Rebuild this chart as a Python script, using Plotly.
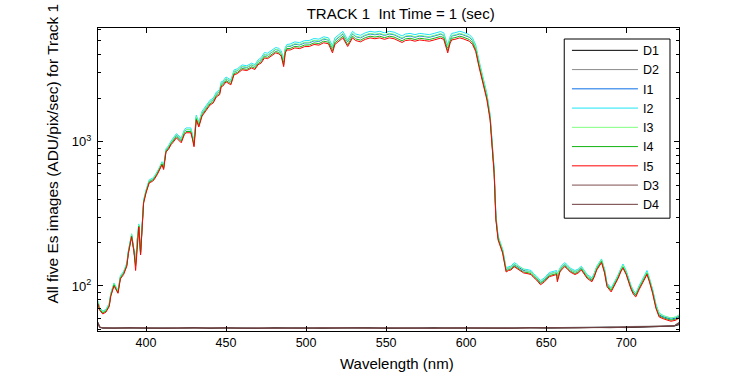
import plotly.graph_objects as go
import math

wavelength = [370, 371, 373, 375, 377, 378, 380, 381.5, 382.5, 384,
              386, 388, 389, 391, 392.5, 393.5, 394.5, 395.5, 396.6, 397.5,
              398.5, 400, 402, 404, 405, 407, 408, 410, 411, 412.5,
              414, 415.6, 417, 419, 422, 424, 425, 428, 429, 430,
              431.4, 433, 435, 436.6, 438, 440, 442, 444, 446, 447,
              448, 450, 453, 455, 457, 460, 463, 466, 468, 470,
              472, 474, 476, 478, 481, 483, 484.5, 486, 487, 488,
              490, 493, 496, 499, 502, 505, 508, 511, 514, 516.5,
              518, 520, 523, 526, 529, 531, 534, 537, 540, 543,
              546, 549, 552, 555, 558, 560, 562, 565, 568, 571,
              574, 577, 580, 582, 584, 586, 588.5, 590, 591, 593,
              596, 598, 600, 602, 604, 606, 608, 609.5, 611, 613,
              615, 616, 617.5, 618.6, 619.3, 620, 622.8, 624, 625, 626.5,
              628, 630, 631.5, 633, 636, 638, 640.6, 642, 644, 646.5,
              649, 652, 654, 656.5, 657, 658.6, 660, 661.6, 663, 665,
              668, 670, 672, 674, 675.6, 678.6, 680, 681.6, 684.6, 686.5,
              688, 690.6, 692, 693.7, 695, 696.6, 698, 700, 701.8, 703,
              704.6, 706, 708, 710, 711, 713, 714.5, 716.5, 718.6, 720.6,
              723.7, 726, 728, 731, 733]

I1 = [77, 70, 66, 68, 74, 88, 103, 95, 92, 115,
      124, 141, 173, 226, 177, 143, 206, 264, 169, 244,
      386, 453, 533, 546, 559, 608, 636, 711, 659, 874,
      915, 988, 1030, 1108, 1029, 1176, 1208, 1208, 1092, 975,
      1481, 1323, 1575, 1659, 1733, 1880, 1943, 2142, 2216, 2520,
      2541, 2720, 2594, 3045, 3098, 3297, 3255, 3392, 3308, 3570,
      3693, 3998, 3956, 4115, 4336, 4273, 4115, 3550, 4326, 4547,
      4558, 4717, 4664, 4812, 4823, 4982, 4929, 5120, 5035, 4430,
      5006, 5219, 5559, 4900, 5559, 5325, 5219, 5432, 5559, 5485,
      5559, 5432, 5559, 5485, 5272, 5165, 5325, 5378, 5272, 5378,
      5325, 5272, 5378, 5485, 5538, 5432, 4450, 5112, 5378, 5432,
      5559, 5485, 5378, 5272, 5006, 4473, 3515, 2982, 2556, 2066,
      1481, 1082, 630, 300, 247, 216, 176, 151, 130, 133,
      134, 141, 138, 134, 128, 127, 125, 120, 114, 106,
      111, 121, 123, 125, 117, 130, 136, 141, 137, 130,
      125, 128, 134, 125, 118, 111, 120, 134, 151, 128,
      103, 95, 101, 109, 118, 130, 138, 125, 106, 99,
      90, 87, 98, 108, 114, 125, 111, 93, 73, 63,
      61, 60, 59, 60, 62]

I2 = [79, 71, 67, 69, 76, 89, 105, 97, 93, 118,
      126, 144, 176, 230, 181, 150, 210, 269, 172, 249,
      394, 462, 543, 557, 570, 620, 648, 725, 672, 891,
      933, 1007, 1050, 1134, 1058, 1210, 1242, 1242, 1123, 1000,
      1523, 1361, 1620, 1706, 1782, 1933, 1998, 2203, 2279, 2592,
      2614, 2797, 2668, 3132, 3186, 3391, 3348, 3488, 3402, 3672,
      3815, 4131, 4088, 4251, 4480, 4415, 4251, 3700, 4469, 4698,
      4730, 4895, 4840, 4994, 5005, 5170, 5115, 5313, 5225, 4600,
      5217, 5439, 5794, 5050, 5794, 5550, 5439, 5661, 5794, 5717,
      5794, 5661, 5794, 5717, 5495, 5384, 5550, 5606, 5495, 5606,
      5550, 5495, 5606, 5717, 5772, 5661, 4650, 5328, 5606, 5661,
      5794, 5717, 5606, 5495, 5217, 4662, 3663, 3108, 2664, 2153,
      1537, 1123, 654, 310, 254, 222, 180, 154, 133, 136,
      137, 145, 142, 137, 131, 130, 128, 122, 117, 109,
      114, 124, 126, 128, 121, 133, 140, 145, 141, 133,
      128, 131, 137, 128, 120, 114, 122, 137, 154, 131,
      105, 97, 103, 112, 120, 133, 142, 128, 109, 101,
      93, 89, 100, 111, 117, 128, 114, 95, 75, 65,
      62, 61, 60, 61, 63]

I3 = [78, 70, 66, 68, 75, 88, 104, 95, 92, 116,
      124, 142, 174, 227, 178, 145, 207, 265, 170, 245,
      388, 455, 535, 549, 562, 611, 639, 714, 662, 879,
      920, 993, 1040, 1115, 1034, 1182, 1213, 1213, 1097, 985,
      1488, 1329, 1583, 1667, 1741, 1888, 1952, 2152, 2226, 2532,
      2553, 2732, 2606, 3060, 3112, 3313, 3271, 3408, 3323, 3587,
      3710, 4017, 3975, 4134, 4357, 4293, 4134, 3600, 4346, 4569,
      4601, 4762, 4708, 4858, 4869, 5029, 4976, 5168, 5083, 4480,
      5053, 5268, 5612, 4950, 5612, 5375, 5268, 5483, 5612, 5536,
      5612, 5483, 5612, 5536, 5321, 5214, 5375, 5429, 5321, 5429,
      5375, 5321, 5429, 5536, 5590, 5483, 4500, 5160, 5429, 5483,
      5612, 5536, 5429, 5321, 5053, 4515, 3548, 3010, 2580, 2085,
      1495, 1092, 636, 302, 248, 217, 177, 152, 131, 134,
      135, 142, 139, 135, 129, 127, 125, 120, 115, 107,
      112, 121, 123, 125, 118, 131, 137, 142, 138, 131,
      125, 129, 135, 125, 118, 112, 120, 135, 152, 129,
      103, 95, 101, 110, 118, 131, 139, 125, 107, 99,
      91, 88, 98, 109, 115, 125, 112, 93, 73, 64,
      62, 61, 60, 61, 63]

I4 = [76, 69, 65, 67, 73, 86, 102, 93, 90, 114,
      122, 139, 171, 222, 175, 138, 203, 260, 166, 241,
      381, 447, 525, 538, 551, 599, 626, 700, 650, 862,
      895, 968, 1010, 1081, 1000, 1142, 1173, 1173, 1061, 940,
      1438, 1285, 1530, 1612, 1683, 1826, 1887, 2081, 2152, 2448,
      2468, 2642, 2519, 2958, 3009, 3203, 3162, 3295, 3213, 3468,
      3577, 3873, 3833, 3986, 4200, 4139, 3986, 3400, 4190, 4405,
      4408, 4561, 4510, 4654, 4664, 4818, 4766, 4951, 4869, 4250,
      4827, 5032, 5361, 4673, 5361, 5135, 5032, 5238, 5361, 5289,
      5361, 5238, 5361, 5289, 5084, 4981, 5135, 5186, 5084, 5186,
      5135, 5084, 5186, 5289, 5340, 5238, 4250, 4930, 5186, 5238,
      5361, 5289, 5186, 5084, 4827, 4313, 3389, 2876, 2465, 1992,
      1440, 1050, 612, 292, 241, 212, 172, 148, 127, 130,
      131, 138, 135, 131, 125, 124, 122, 117, 112, 104,
      109, 118, 120, 122, 110, 127, 133, 138, 134, 127,
      122, 125, 131, 122, 115, 109, 117, 131, 148, 125,
      101, 93, 99, 107, 115, 127, 135, 122, 104, 97,
      89, 86, 96, 106, 112, 122, 109, 91, 71, 62,
      60, 59, 58, 59, 61]

I5 = [75, 68, 64, 66, 72, 85, 100, 92, 89, 112,
      120, 137, 168, 219, 172, 128, 200, 256, 164, 237,
      375, 440, 517, 530, 543, 590, 617, 690, 640, 849,
      880, 950, 990, 1060, 980, 1120, 1150, 1150, 1040, 920,
      1410, 1260, 1500, 1580, 1650, 1790, 1850, 2040, 2110, 2400,
      2420, 2590, 2470, 2900, 2950, 3140, 3100, 3230, 3150, 3400,
      3500, 3790, 3750, 3900, 4110, 4050, 3900, 3300, 4100, 4310,
      4300, 4450, 4400, 4540, 4550, 4700, 4650, 4830, 4750, 4110,
      4700, 4900, 5220, 4550, 5220, 5000, 4900, 5100, 5220, 5150,
      5220, 5100, 5220, 5150, 4950, 4850, 5000, 5050, 4950, 5050,
      5000, 4950, 5050, 5150, 5200, 5100, 4110, 4800, 5050, 5100,
      5220, 5150, 5050, 4950, 4700, 4200, 3300, 2800, 2400, 1940,
      1410, 1030, 600, 287, 237, 208, 169, 145, 125, 128,
      129, 136, 133, 129, 123, 122, 120, 115, 110, 102,
      107, 116, 118, 120, 107, 125, 131, 136, 132, 125,
      120, 123, 129, 120, 113, 107, 115, 129, 145, 123,
      99, 91, 97, 105, 113, 125, 133, 120, 102, 95,
      87, 84, 94, 104, 110, 120, 107, 89, 70, 61,
      59, 58, 57, 58, 60]

dark_wavelength = [370, 371, 373, 380, 390, 400, 410, 420, 430, 440,
                   450, 460, 470, 480, 490, 500, 510, 520, 530, 540,
                   550, 560, 570, 580, 590, 600, 610, 620, 630, 640,
                   650, 660, 670, 680, 690, 700, 710, 720, 730, 733]

D1 = [56, 52, 51.2, 51.0, 51.4, 50.8, 51.2, 51.0, 51.5, 50.9,
      51.3, 51.1, 50.8, 51.4, 51.0, 51.2, 50.9, 51.3, 51.1, 51.5,
      50.8, 51.2, 51.0, 51.4, 51.1, 50.9, 51.3, 51.0, 51.2, 51.5,
      51.1, 51.3, 51.6, 51.2, 51.8, 51.5, 52.0, 52.4, 52.8, 54.0]
D2 = [55, 51.8, 51.0, 51.3, 50.9, 51.2, 51.4, 50.8, 51.1, 51.3,
      50.9, 51.4, 51.2, 50.9, 51.3, 51.0, 51.4, 51.1, 50.8, 51.2,
      51.4, 51.0, 51.3, 50.9, 51.4, 51.2, 51.0, 51.3, 51.5, 51.1,
      51.4, 51.6, 51.2, 51.5, 51.7, 51.9, 52.2, 52.6, 53.0, 55.0]
D3 = [56, 52, 51.4, 51.1, 51.3, 51.0, 51.1, 51.3, 51.0, 51.2,
      51.5, 51.0, 51.2, 51.1, 51.4, 51.2, 51.0, 51.2, 51.4, 51.0,
      51.3, 51.1, 51.4, 51.2, 51.0, 51.3, 51.1, 51.4, 51.2, 51.3,
      51.5, 51.2, 51.4, 51.6, 51.4, 51.7, 52.1, 52.5, 53.1, 56.0]
D4 = [55, 51.6, 51.1, 51.2, 51.0, 51.3, 50.9, 51.2, 51.3, 51.1,
      51.0, 51.3, 51.0, 51.3, 51.1, 51.0, 51.3, 51.2, 51.0, 51.3,
      51.1, 51.3, 51.2, 51.0, 51.3, 51.1, 51.2, 51.3, 51.0, 51.4,
      51.2, 51.4, 51.3, 51.5, 51.6, 51.8, 52.0, 52.4, 52.9, 55.0]

series = [
    ("D1", dark_wavelength, D1, "#000000"),
    ("D2", dark_wavelength, D2, "#8c8c8c"),
    ("I1", wavelength, I1, "#0a6ee6"),
    ("I2", wavelength, I2, "#1ee6f5"),
    ("I3", wavelength, I3, "#80ff80"),
    ("I4", wavelength, I4, "#14b414"),
    ("I5", wavelength, I5, "#ff0000"),
    ("D3", dark_wavelength, D3, "#7f4f4f"),
    ("D4", dark_wavelength, D4, "#6e3c3c"),
]

x_ticks = [400, 450, 500, 550, 600, 650, 700]
y_ticks = [100, 1000]
y_ticktext = ["10<sup>2</sup>", "10<sup>3</sup>"]
y_minor = [50, 60, 70, 80, 90, 200, 300, 400, 500, 600, 700, 800, 900,
           2000, 3000, 4000, 5000, 6000]

FONT = "Liberation Sans, Arial, Helvetica, sans-serif"

# plot-area geometry in pixels (for placing legend box / labels)
PL, PR, PT, PB = 98.3, 679.0, 28.3, 331.0
PW, PH = PR - PL, PB - PT


def px_x(x):
    return (x - PL) / PW


def px_y(y):
    return (PB - y) / PH


fig = go.Figure()
for name, xs, ys, color in series:
    fig.add_trace(go.Scatter(x=xs, y=ys, name=name, mode="lines",
                             line=dict(color=color, width=1)))

fig.update_layout(
    width=750, height=375,
    margin=dict(l=98, r=71, t=28, b=44),
    paper_bgcolor="white", plot_bgcolor="white",
    font=dict(family=FONT, color="black", size=12),
    showlegend=True,
    title=dict(text="TRACK 1\u00a0 Int Time = 1 (sec)", x=0.521, xref="paper",
               xanchor="center", y=1 - 14 / 375, yref="container", yanchor="middle",
               font=dict(size=15, family=FONT, color="black")),
    legend=dict(x=px_x(567), y=px_y(36), xanchor="left", yanchor="top",
                borderwidth=0, bgcolor="rgba(0,0,0,0)",
                font=dict(size=12.5, family=FONT, color="black"),
                itemwidth=66, tracegroupgap=0),
    shapes=[dict(type="rect", xref="paper", yref="paper",
                 x0=px_x(564.3), x1=px_x(670), y0=px_y(218.3), y1=px_y(39.3),
                 line=dict(color="black", width=1), fillcolor="white",
                 layer="above")],
    xaxis=dict(range=[370, 733], tickmode="array", tickvals=x_ticks,
               ticks="inside", ticklen=5,
               tickcolor="black", showline=True, linecolor="black", linewidth=1,
               mirror="ticks", showgrid=False, zeroline=False,
               tickfont=dict(size=12.5, family=FONT)),
    yaxis=dict(type="log", range=[math.log10(48.8), math.log10(6110)],
               tickmode="array", tickvals=y_ticks, ticktext=y_ticktext,
               ticks="inside", ticklen=5, ticklabelstandoff=3,
               tickcolor="black", showline=True, linecolor="black", linewidth=1,
               mirror="ticks", showgrid=False, zeroline=False,
               tickfont=dict(size=13, family=FONT),
               minor=dict(tickmode="array", tickvals=y_minor, ticks="inside",
                          ticklen=3, tickcolor="black", showgrid=False)),
    annotations=[
        dict(text="Wavelength (nm)", xref="paper", yref="paper",
             x=px_x(397), y=px_y(363),
             xanchor="center", yanchor="middle", showarrow=False,
             font=dict(size=15, family=FONT, color="black")),
        dict(text="All five Es images (ADU/pix/sec) for Track 1",
             xref="paper", yref="paper",
             x=px_x(53), y=px_y(154),
             xanchor="center", yanchor="middle", textangle=-90, showarrow=False,
             font=dict(size=15.5, family=FONT, color="black")),
    ],
)

fig.write_html("out.html", config={"displayModeBar": False},
               post_script="document.body.style.margin='0';document.body.style.overflow='hidden';")
